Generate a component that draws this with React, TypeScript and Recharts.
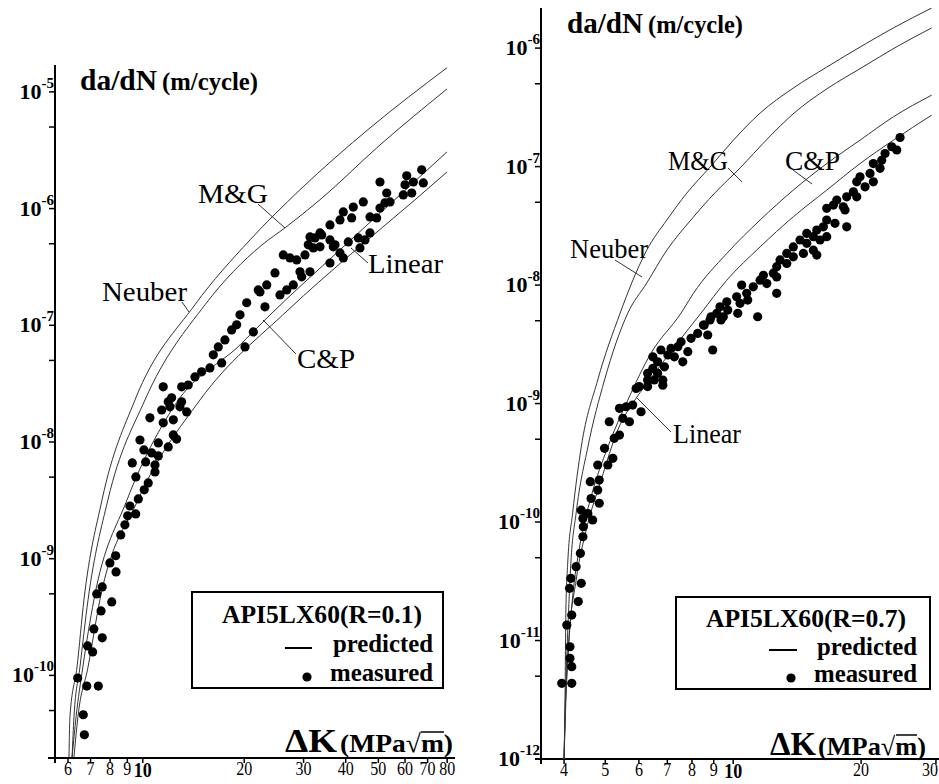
import React from 'react';
import { ScatterChart, Scatter, XAxis, YAxis } from 'recharts';

const SERIF = "'Liberation Serif', 'Times New Roman', serif";

// ---------- left panel: API5L X60, R = 0.1 ----------
const leftKTicks = [6, 7, 8, 9, 10, 20, 30, 40, 50, 60, 70, 80];
const leftRateTicks = [5e-11, 1e-10, 5e-10, 1e-9, 5e-9, 1e-8, 5e-8, 1e-7, 5e-7, 1e-6, 5e-6, 1e-5];

const leftNeuberK = [6.04, 6.08, 6.38, 6.69, 7.57, 9.48, 14.28, 20.8, 29.27, 47.22, 79.9];
const leftNeuberRate = [2.0e-11, 4.41e-11, 1.18e-10, 4.43e-10, 3.19e-9, 2.29e-8, 1.5e-7, 5.39e-7, 1.45e-6, 4.91e-6, 1.61e-5];
const leftMGK = [6.17, 6.25, 6.51, 6.88, 7.88, 10.15, 15.3, 22.58, 26.42, 33.56, 50.56, 79.9];
const leftMGRate = [2.0e-11, 4.41e-11, 1.18e-10, 4.43e-10, 3.19e-9, 2.29e-8, 1.5e-7, 4.89e-7, 6.84e-7, 1.19e-6, 3.51e-6, 1.06e-5];
const leftCPK = [6.17, 6.34, 6.64, 7.16, 8.98, 12.46, 19.43, 23.52, 38.47, 57.97, 79.9];
const leftCPRate = [2.0e-11, 4.41e-11, 1.18e-10, 4.43e-10, 3.19e-9, 2.08e-8, 6.79e-8, 1.18e-7, 4.43e-7, 1.31e-6, 3.06e-6];
const leftLinearK = [6.25, 6.42, 6.88, 7.46, 9.68, 14.78, 26.97, 41.19, 64.24, 79.9];
const leftLinearRate = [2.0e-11, 4.41e-11, 1.18e-10, 4.43e-10, 3.19e-9, 2.29e-8, 1.35e-7, 4.01e-7, 1.19e-6, 2.06e-6];

const leftMeasuredK = [
  6.71, 6.66, 6.41, 6.82, 7.38, 6.86, 7.1, 7.16, 7.58, 7.52, 8.09, 7.3, 7.58, 8.33, 7.99, 8.31, 8.6, 8.85, 9.02, 9.53,
  9.16, 9.7, 10.1, 10.38, 9.54, 9.31, 10.2, 10.87, 10.87, 11.12, 10.63, 10.08, 9.81, 11.12, 11.9, 12.6, 12.32, 11.5,
  10.5, 12.32, 11.38, 12.04, 12.89, 13.5, 13.04, 11.9,
  11.5, 12.18, 13.04, 13.64, 14.28, 14.95, 15.82, 17.14, 16.19, 16.75, 17.53, 18.35, 18.99, 19.43, 20.34, 20.1, 21.28, 23.04,
  22.01, 23.32, 24.67, 22.27, 25.53, 26.73, 27.96, 29.27, 31.34, 29.61, 26.12, 27.34, 28.62, 30.29, 32.06, 33.56, 30.98,
  32.43, 33.95, 35.93,
  33.56, 31.34, 35.93, 36.75, 38.47, 39.35, 35.93, 38.47, 41.67, 39.35, 42.13, 45.1,
  47.22, 49.43, 50.56, 52.32, 47.22, 45.63, 44.1, 40.71, 43.59, 37.18, 50.56, 52.94, 54.15, 60.69, 63.49, 67.23, 59.98,
  67.97, 59.29, 62.8,
];
const leftMeasuredRate = [
  3.1e-11, 4.6e-11, 9.5e-11, 8.1e-11, 8.1e-11, 1.79e-10, 1.59e-10, 2.5e-10, 2.1e-10, 3.57e-10, 4.26e-10, 4.99e-10,
  5.73e-10, 7.7e-10, 9.2e-10, 1.06e-9, 1.6e-9, 1.95e-9, 2.33e-9, 2.42e-9, 2.83e-9, 3.25e-9, 3.89e-9, 4.46e-9, 5.02e-9,
  6.62e-9, 6.75e-9, 5.54e-9, 6.36e-9, 7.6e-9, 8.06e-9, 8.56e-9, 1.04e-8, 9.82e-9, 9.08e-9, 1.06e-8, 1.15e-8, 1.46e-8,
  1.61e-8, 1.55e-8, 1.88e-8, 2.0e-8, 2.0e-8, 1.81e-8, 2.21e-8, 2.21e-8,
  2.97e-8, 2.39e-8, 2.97e-8, 3.08e-8, 3.61e-8, 3.99e-8, 4.31e-8, 4.76e-8, 5.58e-8, 6.53e-8, 7.49e-8, 9.13e-8, 1.01e-7,
  1.23e-7, 1.56e-7, 6.53e-8, 8.78e-8, 1.44e-7,
  2.01e-7, 2.22e-7, 2.81e-7, 1.93e-7, 1.82e-7, 2.01e-7, 2.22e-7, 2.87e-7, 2.87e-7, 2.6e-7, 4.01e-7, 3.78e-7, 3.63e-7,
  4.01e-7, 4.6e-7, 4.7e-7, 4.89e-7, 5.61e-7, 5.95e-7, 7.25e-7,
  6.19e-7, 5.72e-7, 5.39e-7, 4.7e-7, 4.17e-7, 3.78e-7, 3.42e-7, 8.0e-7, 8.32e-7, 9.37e-7, 1.03e-6, 1.14e-6,
  8.49e-7, 8.32e-7, 1.01e-6, 1.12e-6, 6.19e-7, 5.39e-7, 4.6e-7, 5.18e-7, 5.61e-7, 4.89e-7, 1.69e-6, 1.36e-6, 1.14e-6,
  1.91e-6, 1.69e-6, 2.15e-6, 1.6e-6, 1.66e-6, 1.31e-6, 1.36e-6,
];

// ---------- right panel: API5L X60, R = 0.7 ----------
const rightKTicks = [4, 5, 6, 7, 8, 9, 10, 20, 30];
const rightRateTicks = [1e-12, 5e-12, 1e-11, 5e-11, 1e-10, 5e-10, 1e-9, 5e-9, 1e-8, 5e-8, 1e-7, 5e-7, 1e-6];

const rightNeuberK = [4.0, 4.02, 4.04, 4.08, 4.19, 4.39, 4.8, 5.42, 5.77, 6.26, 6.98, 7.78, 8.82, 10.01, 11.57, 13.85, 16.6, 19.88, 23.82, 29.32];
const rightNeuberRate = [1e-12, 3.15e-12, 1.81e-11, 4.51e-11, 1.19e-10, 4.29e-10, 1.58e-9, 5.8e-9, 1.04e-8, 1.97e-8, 3.54e-8, 5.98e-8, 9.9e-8, 1.67e-7, 2.83e-7, 4.6e-7, 6.91e-7, 1.02e-6, 1.48e-6, 2.18e-6];
const rightMGK = [4.0, 4.03, 4.1, 4.15, 4.27, 4.55, 4.98, 5.65, 6.26, 6.98, 7.95, 9.05, 10.43, 11.95, 13.91, 16.72, 20.17, 24.17, 29.32];
const rightMGRate = [1e-12, 3.15e-12, 1.81e-11, 4.51e-11, 1.19e-10, 4.29e-10, 1.58e-9, 5.8e-9, 1.04e-8, 1.97e-8, 3.54e-8, 5.98e-8, 9.9e-8, 1.67e-7, 2.83e-7, 4.6e-7, 6.91e-7, 1.02e-6, 1.48e-6];
const rightCPK = [4.0, 4.04, 4.11, 4.19, 4.35, 4.63, 5.07, 5.65, 6.41, 7.54, 8.06, 9.66, 11.57, 13.85, 16.6, 19.88, 23.82, 29.32];
const rightCPRate = [1e-12, 3.15e-12, 1.01e-11, 2.33e-11, 6.15e-11, 1.63e-10, 4.29e-10, 1.07e-9, 2.67e-9, 5.8e-9, 8.51e-9, 1.85e-8, 3.54e-8, 6.33e-8, 1.06e-7, 1.67e-7, 2.63e-7, 4.01e-7];
const rightLinearK = [4.0, 4.02, 4.09, 4.27, 4.51, 4.89, 5.35, 5.91, 6.41, 7.27, 8.4, 9.66, 11.57, 13.85, 16.6, 19.88, 23.82, 29.32];
const rightLinearRate = [1e-12, 2.13e-12, 8.31e-12, 3.24e-11, 8.56e-11, 2.26e-10, 5.98e-10, 1.11e-9, 1.64e-9, 3.0e-9, 5.8e-9, 1.1e-8, 2.1e-8, 3.77e-8, 6.33e-8, 1.06e-7, 1.67e-7, 2.72e-7];

const rightMeasuredK = [
  24.7, 23.61, 24.26, 22.77, 22.36, 21.37, 22.16, 20.99, 19.88, 21.37, 20.43, 19.53, 19.18, 18.5, 19.53, 18.16, 17.53,
  17.21, 16.6, 18.33, 18.5, 17.36, 16.6, 16.3, 15.73, 15.44, 16.6, 16.01, 14.9, 14.9, 14.36, 15.44, 15.73, 13.85, 13.37,
  13.85, 14.63, 12.89, 13.37, 12.66, 12.43, 11.78, 12.66, 12.0, 11.57, 11.15, 10.47, 12.66, 10.76, 10.19, 10.38, 9.66,
  9.31, 9.15, 8.82, 9.48, 11.42, 8.51,
  10.82, 10.25, 9.71, 9.36, 8.87, 8.55, 8.95, 8.71, 8.25, 7.96, 7.54, 7.82, 7.41, 7.14, 7.61, 7.27, 7.02, 6.76, 6.47,
  6.64, 6.89, 6.47, 6.64, 6.29, 6.83, 6.52, 6.29, 6.83, 6.01, 5.91, 6.29, 5.8, 5.6, 5.4, 6.07, 5.5, 5.7, 5.11, 5.4, 5.25,
  4.98, 5.21, 5.07, 4.8, 4.84, 4.61, 4.8, 4.63, 4.84, 4.39, 4.55, 4.43, 4.67, 4.43, 4.44, 4.37, 4.27, 4.15, 4.39, 4.12,
  4.32, 4.17, 4.06, 4.13, 4.13, 4.17, 3.95, 4.17,
];
const rightMeasuredRate = [
  1.76e-7, 1.47e-7, 1.38e-7, 1.29e-7, 1.13e-7, 1.06e-7, 9.66e-8, 8.76e-8, 8.2e-8, 7.44e-8, 6.75e-8, 7.44e-8, 6.13e-8,
  5.56e-8, 5.56e-8, 4.58e-8, 5.22e-8, 4.73e-8, 4.44e-8, 4.3e-8, 3.1e-8, 3.32e-8, 3.54e-8, 3.1e-8, 2.91e-8, 2.56e-8,
  2.56e-8, 2.4e-8, 2.73e-8, 2.25e-8, 2.4e-8, 1.97e-8, 1.79e-8, 2.1e-8, 1.85e-8, 1.73e-8, 1.85e-8, 1.63e-8, 1.52e-8,
  1.43e-8, 1.26e-8, 1.21e-8, 1.17e-8, 1.03e-8, 1.1e-8, 9.67e-9, 1.0e-8, 8.51e-9, 8.51e-9, 7.96e-9, 7.01e-9, 7.23e-9,
  6.56e-9, 5.77e-9, 5.07e-9, 5.4e-9, 5.4e-9, 4.6e-9,
  7.47e-9, 5.77e-9, 6.15e-9, 5.07e-9, 5.4e-9, 4.6e-9, 2.83e-9, 3.79e-9, 3.91e-9, 3.55e-9, 3.32e-9, 2.74e-9, 3.02e-9,
  2.92e-9, 2.25e-9, 2.48e-9, 2.57e-9, 2.83e-9, 2.48e-9, 2.25e-9, 2.04e-9, 1.98e-9, 1.8e-9, 1.8e-9, 1.58e-9, 1.58e-9,
  1.58e-9, 1.43e-9, 1.39e-9, 1.34e-9, 1.39e-9, 9.71e-10, 9.4e-10, 9.11e-10, 8.53e-10, 7.5e-10, 7.02e-10, 7.02e-10,
  5.42e-10, 5.09e-10, 4.19e-10, 3.45e-10, 3.03e-10, 3.03e-10, 2.26e-10, 2.19e-10, 1.86e-10, 1.58e-10, 1.44e-10,
  1.26e-10, 1.18e-10, 1.07e-10, 1.04e-10, 7.51e-11, 9.13e-11, 5.44e-11, 4.2e-11, 3.35e-11, 3.04e-11, 2.76e-11,
  2.13e-11, 1.64e-11, 1.35e-11, 8.86e-12, 7.08e-12, 6.01e-12, 4.35e-12, 4.35e-12,
];

const toPoints = (k: number[], rate: number[]) => k.map((x, i) => ({ x, y: rate[i] }));

const RateTick = (props: any) => {
  const { x, y, payload } = props;
  const v = payload.value;
  const exp = Math.round(Math.log10(v));
  const major = Math.abs(v / Math.pow(10, exp) - 1) < 1e-6;
  return (
    <g>
      <line x1={x - 6} y1={y} x2={x} y2={y} stroke="#000" strokeWidth={1.5} />
      {major && (
        <text x={x - 1} y={y + 7} textAnchor="end" fontFamily={SERIF} fontWeight="bold" fontSize={22} fill="#000">
          10
          <tspan fontSize={15} dy={-11}>
            {String(exp)}
          </tspan>
        </text>
      )}
    </g>
  );
};

// edge of the page, so the last label on the right is pulled inside it
const PAGE_RIGHT = 938;

const KTick = (props: any) => {
  const { x, y, payload, pageLeft } = props;
  const v = payload.value;
  const isTen = v === 10;
  const digits = String(v).length;
  const w = digits * (isTen ? 9 : 8);
  const room = PAGE_RIGHT - pageLeft - x;
  const cx = room < w / 2 ? x + room - w / 2 : x;
  return (
    <g>
      <line x1={x} y1={y} x2={x} y2={y + 5} stroke="#000" strokeWidth={1.5} />
      <text
        x={cx}
        y={y + (isTen ? 19 : 17)}
        textAnchor="middle"
        fontFamily={SERIF}
        fontSize={isTen ? 20 : 18}
        fontWeight={isTen ? 'bold' : 'normal'}
        textLength={w}
        lengthAdjust="spacingAndGlyphs"
        fill="#000"
      >
        {v}
      </text>
    </g>
  );
};

type PanelProps = {
  left: number;
  width: number;
  top: number;
  right: number;
  axisWidth: number;
  axisHeight: number;
  kDomain: [number, number];
  rateDomain: [number, number];
  kTicks: number[];
  rateTicks: number[];
  curves: { x: number; y: number }[][];
  measured: { x: number; y: number }[];
};

const Panel = ({ left, width, top, right, axisWidth, axisHeight, kDomain, rateDomain, kTicks, rateTicks, curves, measured }: PanelProps) => (
  <div style={{ position: 'absolute', left, top: 0 }}>
    <ScatterChart width={width} height={784} margin={{ top, right, bottom: 0, left: 0 }}>
      <XAxis
        type="number"
        dataKey="x"
        scale="log"
        domain={kDomain}
        allowDataOverflow
        ticks={kTicks}
        interval={0}
        height={axisHeight}
        tickSize={0}
        tickMargin={0}
        tickLine={false}
        axisLine={{ stroke: '#000', strokeWidth: 2 }}
        tick={(p: any) => <KTick {...p} pageLeft={left} />}
      />
      <YAxis
        type="number"
        dataKey="y"
        scale="log"
        domain={rateDomain}
        allowDataOverflow
        ticks={rateTicks}
        interval={0}
        width={axisWidth}
        tickSize={0}
        tickMargin={0}
        tickLine={false}
        axisLine={{ stroke: '#000', strokeWidth: 2 }}
        tick={(p: any) => <RateTick {...p} />}
      />
      {curves.map((c, i) => (
        <Scatter
          key={i}
          data={c}
          line={{ stroke: '#333', strokeWidth: 1 }}
          lineJointType="monotoneX"
          shape={() => <g />}
          isAnimationActive={false}
        />
      ))}
      <Scatter
        data={measured}
        shape={(p: any) => <circle cx={p.cx} cy={p.cy} r={4.6} fill="#000" />}
        isAnimationActive={false}
      />
    </ScatterChart>
  </div>
);

const T = ({ x, y, size, w, bold, children }: any) => (
  <text
    x={x}
    y={y}
    fontFamily={SERIF}
    fontSize={size}
    fontWeight={bold ? 'bold' : 'normal'}
    textLength={w}
    lengthAdjust="spacingAndGlyphs"
    fill="#000"
  >
    {children}
  </text>
);

const Annotations = () => (
  <svg width={939} height={784} style={{ position: 'absolute', left: 0, top: 0, pointerEvents: 'none' }}>
    {/* axis cross stubs */}
    <line x1={48} y1={758} x2={55} y2={758} stroke="#000" strokeWidth={2} />
    <line x1={55} y1={758} x2={55} y2={763} stroke="#000" strokeWidth={2} />
    <line x1={535} y1={759} x2={541} y2={759} stroke="#000" strokeWidth={2} />
    <line x1={541} y1={759} x2={541} y2={764} stroke="#000" strokeWidth={2} />

    {/* titles */}
    <T x={80} y={90} size={29} w={77} bold>da/dN</T>
    <T x={162} y={90} size={26} w={96} bold>(m/cycle)</T>
    <T x={567} y={33} size={29} w={76} bold>da/dN</T>
    <T x={648} y={33} size={26} w={95} bold>(m/cycle)</T>

    {/* ΔK labels */}
    <T x={285} y={752} size={34} w={52} bold>ΔK</T>
    <T x={340} y={752} size={26} w={113} bold>(MPa√m)</T>
    <line x1={421} y1={732} x2={444} y2={732} stroke="#000" strokeWidth={1.5} />
    <T x={770} y={755} size={34} w={46} bold>ΔK</T>
    <T x={818} y={755} size={26} w={108} bold>(MPa√m)</T>
    <line x1={896} y1={735} x2={917} y2={735} stroke="#000" strokeWidth={1.5} />

    {/* curve labels, left */}
    <T x={198} y={203} size={28} w={70}>M&amp;G</T>
    <line x1={258} y1={204} x2={285} y2={228} stroke="#333" strokeWidth={1} />
    <T x={102} y={301} size={28} w={85}>Neuber</T>
    <line x1={182} y1={302} x2={189} y2={312} stroke="#333" strokeWidth={1} />
    <T x={368} y={273} size={28} w={75}>Linear</T>
    <line x1={368} y1={263} x2={351} y2={248} stroke="#333" strokeWidth={1} />
    <T x={297} y={368} size={28} w={58}>C&amp;P</T>
    <line x1={296} y1={354} x2={263} y2={320} stroke="#333" strokeWidth={1} />

    {/* curve labels, right */}
    <T x={668} y={170} size={28} w={60}>M&amp;G</T>
    <line x1={728} y1={168} x2={742} y2={182} stroke="#333" strokeWidth={1} />
    <T x={785} y={170} size={28} w={55}>C&amp;P</T>
    <line x1={793} y1={170} x2={812} y2={184} stroke="#333" strokeWidth={1} />
    <T x={570} y={258} size={28} w={78}>Neuber</T>
    <line x1={615} y1={260} x2={642} y2={277} stroke="#333" strokeWidth={1} />
    <T x={673} y={443} size={28} w={68}>Linear</T>
    <line x1={671} y1={432} x2={636} y2={397} stroke="#333" strokeWidth={1} />

    {/* legend, left */}
    <rect x={192} y={592} width={251} height={96} fill="#fff" stroke="#000" strokeWidth={2} />
    <T x={222} y={623} size={25} w={200} bold>API5LX60(R=0.1)</T>
    <line x1={285} y1={648} x2={312} y2={648} stroke="#000" strokeWidth={2} />
    <T x={333} y={652} size={25} w={100} bold>predicted</T>
    <circle cx={307} cy={677} r={4.6} fill="#000" />
    <T x={330} y={681} size={25} w={103} bold>measured</T>

    {/* legend, right */}
    <rect x={676} y={597} width={254} height={92} fill="#fff" stroke="#000" strokeWidth={2} />
    <T x={706} y={627} size={25} w={200} bold>API5LX60(R=0.7)</T>
    <line x1={769} y1={650} x2={797} y2={650} stroke="#000" strokeWidth={2} />
    <T x={817} y={655} size={25} w={100} bold>predicted</T>
    <circle cx={791} cy={678} r={4.6} fill="#000" />
    <T x={814} y={682} size={25} w={103} bold>measured</T>
  </svg>
);

export default function App() {
  return (
    <div style={{ position: 'absolute', left: 0, top: 0, width: 939, height: 784, background: '#fff', overflow: 'hidden' }}>
      <Panel
        left={0}
        width={470}
        top={65}
        right={15}
        axisWidth={55}
        axisHeight={26}
        kDomain={[5.49, 84.4]}
        rateDomain={[1.96e-11, 1.7e-5]}
        kTicks={leftKTicks}
        rateTicks={leftRateTicks}
        curves={[
          toPoints(leftNeuberK, leftNeuberRate),
          toPoints(leftMGK, leftMGRate),
          toPoints(leftCPK, leftCPRate),
          toPoints(leftLinearK, leftLinearRate),
        ]}
        measured={toPoints(leftMeasuredK, leftMeasuredRate)}
      />
      <Panel
        left={470}
        width={469}
        top={8}
        right={0}
        axisWidth={71}
        axisHeight={25}
        kDomain={[3.53, 30.5]}
        rateDomain={[1e-12, 2.18e-6]}
        kTicks={rightKTicks}
        rateTicks={rightRateTicks}
        curves={[
          toPoints(rightNeuberK, rightNeuberRate),
          toPoints(rightMGK, rightMGRate),
          toPoints(rightCPK, rightCPRate),
          toPoints(rightLinearK, rightLinearRate),
        ]}
        measured={toPoints(rightMeasuredK, rightMeasuredRate)}
      />
      <Annotations />
    </div>
  );
}
